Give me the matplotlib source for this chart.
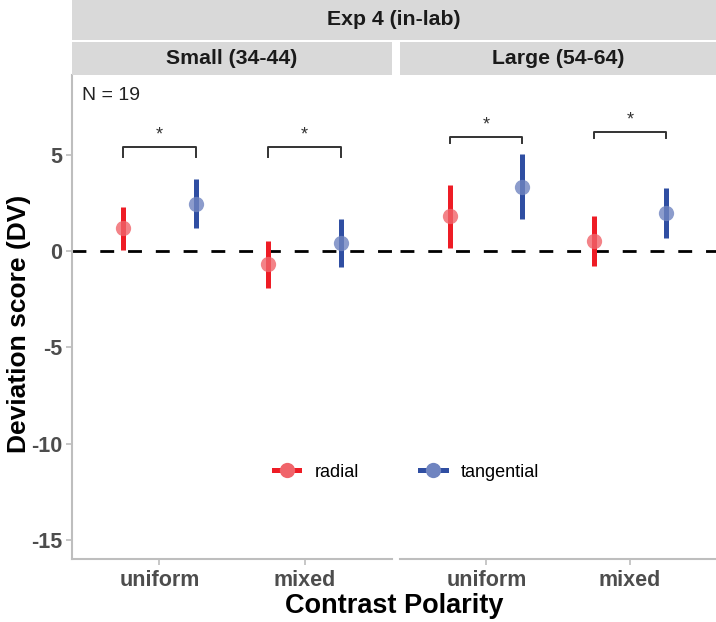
import numpy as np
import matplotlib
matplotlib.use("Agg")
import matplotlib.pyplot as plt
from matplotlib.lines import Line2D

plt.rcParams['font.family'] = ['Liberation Sans', 'DejaVu Sans']

# data
panels = ["Small (34-44)", "Large (54-64)"]
conditions = ["uniform", "mixed"]
groups = ["radial", "tangential"]

# mean, lower, upper for [panel][condition][group]
means = [[[1.21, 2.46], [-0.69, 0.40]],
         [[1.82, 3.34], [0.54, 1.99]]]
lows = [[[0.05, 1.20], [-1.91, -0.82]],
        [[0.16, 1.66], [-0.76, 0.69]]]
highs = [[[2.27, 3.73], [0.52, 1.65]],
         [[3.43, 5.04], [1.80, 3.29]]]

# significance brackets: [panel][condition] -> bracket height, leg bottom
br_top = [[5.42, 5.42], [5.94, 6.20]]
br_leg = [[4.87, 4.87], [5.60, 5.86]]

bar_cols = ["#EE1C25", "#2F4EA2"]
pt_cols = ["#F0646A", "#6F84C0"]
grey_txt = "#4D4D4D"
spine_col = "#BEBEBE"

fig = plt.figure(figsize=(7.16, 6.22), dpi=100)

ax_bottom = 0.1013
ax_h = 0.8794 - ax_bottom
ax_pos = [[0.101, ax_bottom, 0.446, ax_h], [0.559, ax_bottom, 0.441, ax_h]]
dodge = 0.25
for p in range(2):
    ax = fig.add_axes(ax_pos[p])
    ax.set_xlim(0.4, 2.6)
    ax.set_ylim(-16.0, 9.15)
    ax.axhline(0, color="black", lw=2, ls=(0, (5, 5)), zorder=1)
    for c in range(2):
        xc = c + 1
        for g in range(2):
            x = xc + (-dodge if g == 0 else dodge)
            ax.plot([x, x], [lows[p][c][g], highs[p][c][g]], color=bar_cols[g],
                    lw=3.6, solid_capstyle="butt", zorder=2)
            ax.plot(x, means[p][c][g], "o", ms=11, color=pt_cols[g], alpha=0.8,
                    mec="none", zorder=3)
        x0, x1 = xc - dodge, xc + dodge
        ax.plot([x0, x0, x1, x1], [br_leg[p][c], br_top[p][c], br_top[p][c], br_leg[p][c]],
                color="#333333", lw=1.4, zorder=2)
        ax.text(xc, br_top[p][c] + 0.15, "*", ha="center", va="bottom",
                fontsize=13, color="#333333")
    ax.set_xticks([1, 2])
    ax.set_xticklabels(conditions, fontsize=15.5, fontweight="bold", color=grey_txt)
    ax.tick_params(axis="x", colors=spine_col, labelcolor=grey_txt, length=4,
                   width=1.2, pad=4)
    for s in ["top", "right"]:
        ax.spines[s].set_visible(False)
    ax.spines["bottom"].set_color(spine_col)
    ax.spines["bottom"].set_linewidth(1.5)
    if p == 0:
        ax.spines["left"].set_color(spine_col)
        ax.spines["left"].set_linewidth(1.5)
        ax.set_yticks([5, 0, -5, -10, -15])
        ax.set_yticklabels(["5", "0", "-5", "-10", "-15"], fontsize=15.5,
                           fontweight="bold", color=grey_txt)
        ax.tick_params(axis="y", colors=spine_col, labelcolor=grey_txt, length=4, width=1.2)
        ax.set_ylabel("Deviation score (DV)", fontsize=19, fontweight="bold")
        ax.yaxis.set_label_coords(-0.13, 0.486)
        ax.text(0.03, 0.975, "N = 19", transform=ax.transAxes, ha="left", va="top",
                fontsize=14, color="#222222")
    else:
        ax.spines["left"].set_visible(False)
        ax.set_yticks([])

# strips
strip_col = "#D9D9D9"
top = fig.add_axes([0.101, 0.9357, 0.899, 0.0643])
top.set_facecolor(strip_col)
top.set_xticks([]); top.set_yticks([])
for s in top.spines.values():
    s.set_visible(False)
top.text(0.5, 0.5, "Exp 4 (in-lab)", ha="center", va="center", fontsize=15.3,
         fontweight="bold", color="#1A1A1A", transform=top.transAxes)
for p in range(2):
    st = fig.add_axes([ax_pos[p][0], 0.8794, ax_pos[p][2], 0.0531])
    st.set_facecolor(strip_col)
    st.set_xticks([]); st.set_yticks([])
    for s in st.spines.values():
        s.set_visible(False)
    st.text(0.5, 0.5, panels[p], ha="center", va="center", fontsize=15.3,
            fontweight="bold", color="#1A1A1A", transform=st.transAxes)

fig.text(0.55, 0.026, "Contrast Polarity", ha="center", va="center", fontsize=19.5,
         fontweight="bold")

# legend
handles = [Line2D([0], [0], color=bar_cols[g], lw=3.6, marker="o", ms=11,
                  markerfacecolor=pt_cols[g], markeredgecolor="none") for g in range(2)]
fig.legend(handles, groups, loc="center", bbox_to_anchor=(0.568, 0.241), ncol=2,
           frameon=False, fontsize=13, handlelength=1.4, columnspacing=3.4,
           handletextpad=0.85)

fig.savefig("out.png", dpi=100)
